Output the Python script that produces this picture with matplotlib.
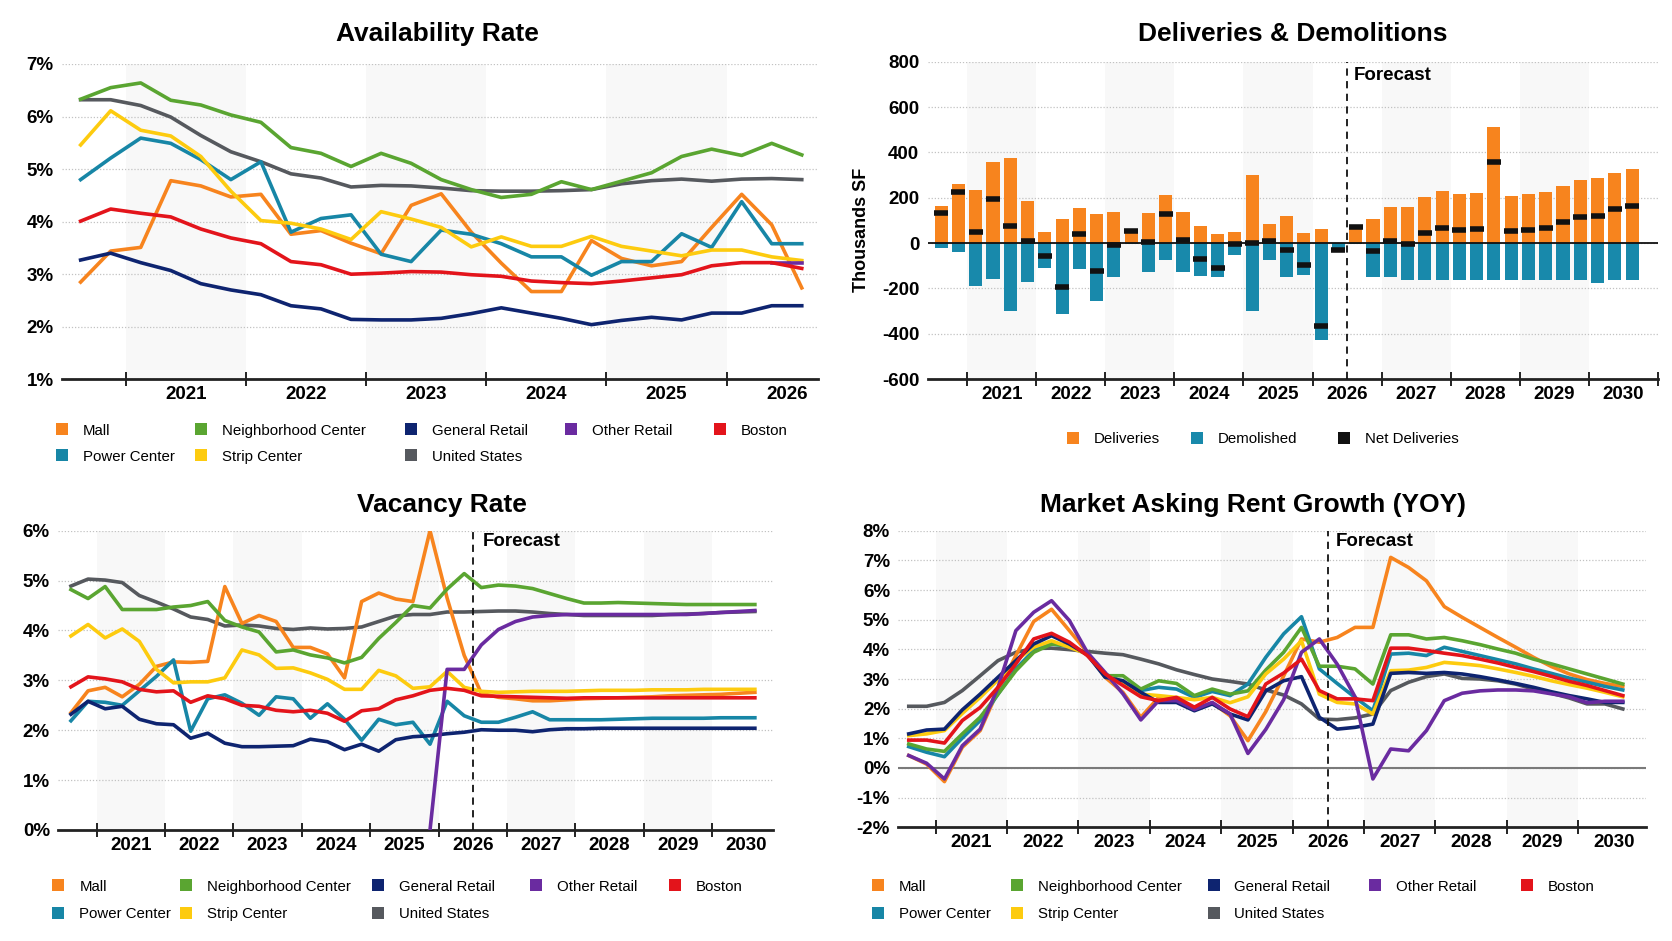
import numpy as np
import pandas as pd
import matplotlib
matplotlib.use('Agg')
import matplotlib.pyplot as plt
from matplotlib.lines import Line2D
from matplotlib.ticker import FixedLocator, FuncFormatter, NullFormatter

plt.rcParams['font.family'] = ['Liberation Sans', 'DejaVu Sans']

nan = np.nan

# quarters ------------------------------------------------------------
q_hist = pd.period_range('2020Q3', '2026Q3', freq='Q')   # availability
q_all = pd.period_range('2020Q3', '2030Q3', freq='Q')    # other panels

# Availability Rate (%) -----------------------------------------------
av_mall = [2.85, 3.44, 3.51, 4.78, 4.68, 4.47, 4.52, 3.76, 3.83, 3.59, 3.39, 4.31, 4.53,
           3.80, 3.21, 2.67, 2.67, 3.64, 3.30, 3.16, 3.24, 3.89, 4.52, 3.94, 2.74]
av_power = [4.80, 5.21, 5.59, 5.49, 5.18, 4.80, 5.14, 3.80, 4.06, 4.13, 3.38, 3.24, 3.84,
            3.76, 3.58, 3.33, 3.33, 2.98, 3.24, 3.24, 3.77, 3.51, 4.38, 3.58, 3.58]
av_neigh = [6.33, 6.55, 6.64, 6.31, 6.22, 6.03, 5.89, 5.41, 5.30, 5.05, 5.30, 5.11, 4.80,
            4.61, 4.46, 4.52, 4.76, 4.61, 4.77, 4.93, 5.24, 5.38, 5.26, 5.49, 5.27]
av_strip = [5.46, 6.11, 5.74, 5.63, 5.24, 4.58, 4.02, 3.97, 3.86, 3.66, 4.19, 4.05, 3.89,
            3.52, 3.71, 3.53, 3.53, 3.72, 3.53, 3.44, 3.35, 3.46, 3.46, 3.33, 3.26]
av_general = [3.27, 3.40, 3.22, 3.07, 2.82, 2.70, 2.61, 2.40, 2.34, 2.14, 2.13, 2.13, 2.16,
              2.25, 2.36, 2.26, 2.16, 2.04, 2.12, 2.18, 2.13, 2.26, 2.26, 2.40, 2.40]
av_us = [6.32, 6.32, 6.21, 5.99, 5.64, 5.33, 5.14, 4.91, 4.83, 4.66, 4.69, 4.68, 4.64,
         4.59, 4.58, 4.58, 4.59, 4.61, 4.72, 4.78, 4.81, 4.77, 4.81, 4.82, 4.80]
av_other = [nan] * 23 + [3.22, 3.22]
av_boston = [4.01, 4.24, 4.16, 4.09, 3.86, 3.69, 3.58, 3.24, 3.18, 3.00, 3.02, 3.05, 3.04,
             2.99, 2.96, 2.87, 2.84, 2.82, 2.87, 2.93, 2.99, 3.16, 3.22, 3.22, 3.11]

# Deliveries & Demolitions (thousands SF) -----------------------------
deliveries = [163, 261, 233, 356, 375, 184, 49, 108, 156, 127, 139, 55, 133, 212, 138, 76,
              40, 49, 301, 86, 119, 46, 61, 0, 75, 108, 157, 157, 203, 230, 215, 219, 511,
              209, 216, 224, 252, 276, 289, 308, 326]
demolished = [-22, -39, -188, -158, -300, -174, -112, -314, -116, -257, -148, -3, -126, -75,
              -126, -145, -152, -54, -300, -75, -148, -143, -428, -32, -3, -148, -148, -162,
              -162, -162, -162, -162, -162, -162, -162, -162, -162, -165, -177, -162, -162]
net_deliveries = [133, 224, 49, 194, 77, 7, -58, -196, 39, -123, -7, 52, 4, 130, 12, -70,
                  -109, -5, 1, 11, -29, -95, -368, -32, 72, -37, 9, -5, 46, 67, 59, 61, 356,
                  52, 59, 67, 93, 116, 119, 150, 164]

# Vacancy Rate (%) ----------------------------------------------------
vac_mall = [2.35, 2.79, 2.86, 2.67, 2.92, 3.28, 3.37, 3.36, 3.38, 4.88, 4.14, 4.30, 4.18, 3.66,
            3.66, 3.53, 3.05, 4.58, 4.75, 4.63, 4.58, 6.00, 4.65, 3.50, 2.74, 2.66, 2.63, 2.59,
            2.59, 2.61, 2.63, 2.64, 2.65, 2.66, 2.67, 2.69, 2.70, 2.71, 2.72, 2.74, 2.76]
vac_power = [2.19, 2.58, 2.56, 2.50, 2.79, 3.08, 3.41, 1.98, 2.63, 2.71, 2.54, 2.30, 2.67, 2.63,
             2.24, 2.53, 2.22, 1.80, 2.22, 2.11, 2.16, 1.72, 2.58, 2.29, 2.16, 2.16, 2.26, 2.37,
             2.21, 2.21, 2.21, 2.21, 2.22, 2.23, 2.24, 2.24, 2.24, 2.24, 2.25, 2.25, 2.25]
vac_neigh = [4.82, 4.64, 4.88, 4.42, 4.42, 4.42, 4.47, 4.50, 4.58, 4.20, 4.07, 3.97, 3.57, 3.61,
             3.51, 3.45, 3.35, 3.46, 3.84, 4.16, 4.50, 4.45, 4.83, 5.14, 4.86, 4.91, 4.89, 4.84,
             4.74, 4.64, 4.55, 4.55, 4.56, 4.55, 4.54, 4.53, 4.52, 4.52, 4.52, 4.52, 4.52]
vac_strip = [3.89, 4.12, 3.85, 4.03, 3.78, 3.22, 2.95, 2.97, 2.97, 3.05, 3.61, 3.51, 3.24, 3.25,
             3.15, 3.02, 2.82, 2.82, 3.20, 3.09, 2.84, 2.87, 3.18, 2.86, 2.78, 2.76, 2.77, 2.78,
             2.78, 2.78, 2.79, 2.80, 2.80, 2.80, 2.81, 2.81, 2.81, 2.82, 2.82, 2.82, 2.82]
vac_general = [2.32, 2.58, 2.43, 2.48, 2.22, 2.13, 2.11, 1.84, 1.94, 1.74, 1.67, 1.67, 1.68, 1.69,
               1.82, 1.77, 1.61, 1.72, 1.58, 1.81, 1.87, 1.89, 1.93, 1.96, 2.01, 2.00, 2.00, 1.97,
               2.01, 2.03, 2.03, 2.04, 2.04, 2.04, 2.04, 2.04, 2.04, 2.04, 2.04, 2.04, 2.04]
vac_us = [4.89, 5.03, 5.01, 4.96, 4.70, 4.57, 4.43, 4.27, 4.22, 4.09, 4.11, 4.09, 4.04, 4.02,
          4.05, 4.03, 4.04, 4.07, 4.18, 4.29, 4.32, 4.32, 4.37, 4.37, 4.38, 4.39, 4.39, 4.37,
          4.34, 4.32, 4.30, 4.30, 4.30, 4.30, 4.30, 4.32, 4.33, 4.34, 4.36, 4.37, 4.38]
vac_other = [nan] * 21 + [0.0, 3.22, 3.22, 3.71, 4.02, 4.18, 4.27, 4.30, 4.32, 4.32, 4.32, 4.32,
                          4.32, 4.32, 4.32, 4.32, 4.34, 4.36, 4.38, 4.40]
vac_boston = [2.87, 3.07, 3.03, 2.97, 2.82, 2.77, 2.79, 2.56, 2.69, 2.63, 2.50, 2.48, 2.40, 2.37,
              2.40, 2.34, 2.18, 2.39, 2.43, 2.61, 2.69, 2.80, 2.84, 2.80, 2.69, 2.68, 2.67, 2.66,
              2.65, 2.64, 2.65, 2.65, 2.65, 2.65, 2.65, 2.65, 2.65, 2.65, 2.65, 2.65, 2.65]

# Market Asking Rent Growth YOY (%) -----------------------------------
rent_mall = [0.42, 0.13, -0.46, 0.70, 1.26, 2.61, 3.79, 4.94, 5.35, 4.63, 3.90, 3.06, 2.55, 1.71,
             2.38, 2.27, 1.99, 2.20, 1.76, 0.92, 1.90, 3.10, 4.35, 4.24, 4.40, 4.74, 4.74, 7.10,
             6.76, 6.31, 5.44, 5.08, 4.74, 4.40, 4.07, 3.73, 3.42, 3.17, 2.98, 2.85, 2.75]
rent_power = [0.72, 0.53, 0.38, 1.01, 1.60, 2.49, 3.34, 3.96, 4.18, 4.10, 3.84, 3.17, 2.89, 2.61,
              2.72, 2.66, 2.38, 2.58, 2.44, 2.83, 3.73, 4.52, 5.10, 3.34, 2.85, 2.38, 1.93, 3.84,
              3.87, 3.79, 4.07, 3.93, 3.79, 3.65, 3.51, 3.34, 3.19, 3.03, 2.89, 2.75, 2.63]
rent_neigh = [0.81, 0.64, 0.56, 1.15, 1.71, 2.49, 3.28, 3.90, 4.18, 4.12, 3.84, 3.11, 3.11, 2.66,
              2.94, 2.85, 2.44, 2.66, 2.49, 2.60, 3.30, 3.90, 4.74, 3.43, 3.43, 3.34, 2.83, 4.49,
              4.49, 4.35, 4.40, 4.29, 4.16, 4.01, 3.87, 3.67, 3.51, 3.34, 3.17, 3.00, 2.83]
rent_strip = [1.09, 1.15, 1.26, 1.84, 2.38, 2.97, 3.62, 4.07, 4.29, 4.07, 3.84, 3.11, 2.89, 2.49,
              2.44, 2.38, 2.30, 2.38, 2.20, 2.40, 3.17, 3.67, 4.29, 2.49, 2.21, 2.16, 1.82, 3.28,
              3.30, 3.39, 3.56, 3.51, 3.45, 3.34, 3.22, 3.09, 2.94, 2.81, 2.69, 2.55, 2.40]
rent_general = [1.15, 1.28, 1.31, 1.96, 2.49, 3.06, 3.62, 4.18, 4.46, 4.18, 3.82, 3.06, 2.94, 2.55,
                2.21, 2.21, 1.93, 2.16, 1.82, 1.62, 2.60, 2.94, 3.08, 1.71, 1.31, 1.37, 1.48, 3.19,
                3.22, 3.19, 3.22, 3.17, 3.08, 2.97, 2.85, 2.72, 2.57, 2.44, 2.33, 2.21, 2.21]
rent_us = [2.08, 2.08, 2.21, 2.61, 3.11, 3.62, 3.90, 4.03, 4.04, 3.99, 3.93, 3.87, 3.82, 3.67,
           3.51, 3.31, 3.15, 3.00, 2.92, 2.83, 2.63, 2.46, 2.16, 1.65, 1.63, 1.69, 1.82, 2.61,
           2.89, 3.08, 3.17, 3.02, 3.00, 2.94, 2.83, 2.66, 2.52, 2.36, 2.16, 2.16, 1.99]
rent_other = [0.42, 0.16, -0.37, 0.75, 1.31, 2.72, 4.63, 5.25, 5.64, 4.97, 3.90, 3.22, 2.50, 1.62,
              2.27, 2.27, 1.97, 2.21, 1.82, 0.49, 1.30, 2.30, 3.90, 4.35, 3.50, 2.40, -0.37, 0.64,
              0.58, 1.26, 2.27, 2.52, 2.60, 2.63, 2.63, 2.60, 2.50, 2.40, 2.20, 2.25, 2.25]
rent_boston = [0.94, 0.94, 0.84, 1.60, 2.04, 2.72, 3.51, 4.35, 4.54, 4.24, 3.79, 3.17, 2.78, 2.40,
               2.27, 2.38, 2.05, 2.38, 1.99, 1.73, 2.83, 3.20, 3.67, 2.61, 2.33, 2.33, 2.27, 4.04,
               4.04, 3.96, 3.87, 3.79, 3.67, 3.54, 3.39, 3.25, 3.09, 2.92, 2.78, 2.61, 2.44]

names = ['Mall', 'Power Center', 'Neighborhood Center', 'Strip Center',
         'General Retail', 'United States', 'Other Retail', 'Boston']
colors = ['#F7841E', '#1786A6', '#5AA531', '#FDCB0F', '#0E2470', '#56595E', '#6A2BA0', '#E3141B']
draw_order = [5, 0, 1, 2, 3, 4, 6, 7]

DEL_C, DEM_C = '#F7841E', '#1889AB'

# ---------------------------------------------------------------------
W, H = 1672, 941
fig = plt.figure(figsize=(W / 100, H / 100), dpi=100)


def px_axes(l, t, r, b):
    return fig.add_axes([l / W, 1 - b / H, (r - l) / W, (b - t) / H])


def qx(periods):
    return np.asarray(periods.year + (periods.quarter - 0.5) / 4.0, dtype=float)


def style(ax, xlim, ylim, yticks, fmt):
    ax.set_xlim(*xlim)
    ax.set_ylim(*ylim)
    first, last = int(np.ceil(xlim[0])), int(np.floor(xlim[1]))
    for y in range(first, last + 1):
        if y % 2 == 1:
            ax.axvspan(y, y + 1, color='#F8F8F8', lw=0, zorder=0)
    ax.set_yticks(yticks)
    ax.yaxis.set_major_formatter(FuncFormatter(fmt))
    ax.grid(axis='y', ls=(0, (1, 1.5)), color='#C2C2C2', lw=0.9)
    ax.set_axisbelow(True)
    for s in ['left', 'right', 'top']:
        ax.spines[s].set_visible(False)
    ax.spines['bottom'].set_linewidth(2.0)
    ax.spines['bottom'].set_color('#222222')
    years = list(range(first, last + 1))
    ax.xaxis.set_major_locator(FixedLocator(years))
    ax.xaxis.set_major_formatter(NullFormatter())
    labs = [y for y in years if y + 0.5 < xlim[1]]
    ax.xaxis.set_minor_locator(FixedLocator([y + 0.5 for y in labs]))
    ax.xaxis.set_minor_formatter(FuncFormatter(lambda v, p: str(int(v))))
    ax.tick_params(axis='x', which='major', direction='inout', length=9.5, width=1.4, color='#222222')
    ax.tick_params(axis='x', which='minor', length=0, pad=5, labelsize=13.5)
    ax.tick_params(axis='y', length=0, pad=6, labelsize=13.5)
    for lab in ax.get_xticklabels(minor=True) + ax.get_yticklabels():
        lab.set_fontweight('bold')


def legend_entry(label, color, x_px, y_px):
    h = Line2D([], [], ls='none', marker='s', ms=9, color=color, markeredgewidth=0)
    fig.legend(handles=[h], labels=[label], loc='center left',
               bbox_to_anchor=(x_px / W, 1 - y_px / H), frameon=False, borderpad=0,
               borderaxespad=0, handlelength=0.8, handletextpad=1.0, fontsize=10.8)


def series_legend(cols, row1, row2):
    slots = [(cols[0], row1), (cols[0], row2), (cols[1], row1), (cols[1], row2),
             (cols[2], row1), (cols[2], row2), (cols[3], row1), (cols[4], row1)]
    for name, c, (x, y) in zip(names, colors, slots):
        legend_entry(name, c, x, y)


pct = lambda v, p: f'{v:.0f}%'

# Availability Rate ---------------------------------------------------
ax1 = px_axes(62, 64, 818, 379.3)
style(ax1, (2020.47, 2026.76), (1, 7), range(1, 8), pct)
x = qx(q_hist)
av = [av_mall, av_power, av_neigh, av_strip, av_general, av_us, av_other, av_boston]
for i in draw_order:
    ax1.plot(x, av[i], color=colors[i], lw=2.6, zorder=3)
fig.text(437 / W, 1 - 34 / H, 'Availability Rate', ha='center', va='center',
         fontsize=19, weight='bold')
series_legend([56, 195, 405, 565, 714], 430.7, 456.7)

# Deliveries & Demolitions -------------------------------------------
ax2 = px_axes(927.7, 61.7, 1658, 379)
style(ax2, (2020.43, 2031.0), (-600, 800), range(-600, 801, 200), lambda v, p: f'{v:.0f}')
x = qx(q_all)
ax2.bar(x, deliveries, width=0.19, color=DEL_C, zorder=2)
ax2.bar(x, demolished, width=0.19, color=DEM_C, zorder=2)
ax2.axhline(0, color='#111111', lw=1.3, zorder=3)
ax2.plot(x, net_deliveries, ls='none', marker='_', ms=9.5, mew=4, color='#111111', zorder=4)
ax2.axvline(2026.5, color='#111111', ls=(0, (4, 3)), lw=1.3, zorder=4)
ax2.text(2026.6, 741, 'Forecast', fontsize=13.5, weight='bold', va='center')
fig.text(1293 / W, 1 - 34 / H, 'Deliveries & Demolitions', ha='center', va='center',
         fontsize=19, weight='bold')
fig.text(861 / W, 1 - 230 / H, 'Thousands SF', rotation=90, ha='center', va='center',
         fontsize=13, weight='bold')
legend_entry('Deliveries', DEL_C, 1067, 439.3)
legend_entry('Demolished', DEM_C, 1190.7, 439.3)
legend_entry('Net Deliveries', '#111111', 1338, 439.3)

# Vacancy Rate --------------------------------------------------------
ax3 = px_axes(58.3, 530.7, 773, 830)
style(ax3, (2020.44, 2030.89), (0, 6), range(0, 7), pct)
vac = [vac_mall, vac_power, vac_neigh, vac_strip, vac_general, vac_us, vac_other, vac_boston]
for i in draw_order:
    ax3.plot(x, vac[i], color=colors[i], lw=2.6, zorder=3)
ax3.axvline(2026.5, color='#111111', ls=(0, (4, 3)), lw=1.3, zorder=4)
ax3.text(2026.64, 5.78, 'Forecast', fontsize=13.5, weight='bold', va='center')
fig.text(442 / W, 1 - 505 / H, 'Vacancy Rate', ha='center', va='center',
         fontsize=19, weight='bold')
series_legend([52.3, 180, 372.3, 530, 669], 886.7, 914.3)

# Market Asking Rent Growth ------------------------------------------
ax4 = px_axes(898.4, 530.7, 1646, 827.3)
style(ax4, (2020.48, 2030.95), (-2, 8), range(-2, 9), pct)
ax4.axhline(0, color='#7A7A7A', lw=1.5, zorder=1.5)
rent = [rent_mall, rent_power, rent_neigh, rent_strip, rent_general, rent_us, rent_other, rent_boston]
for i in draw_order:
    ax4.plot(x, rent[i], color=colors[i], lw=2.6, zorder=3)
ax4.axvline(2026.5, color='#111111', ls=(0, (4, 3)), lw=1.3, zorder=4)
ax4.text(2026.6, 7.63, 'Forecast', fontsize=13.5, weight='bold', va='center')
fig.text(1253 / W, 1 - 505 / H, 'Market Asking Rent Growth (YOY)', ha='center', va='center',
         fontsize=19, weight='bold')
series_legend([872, 1011, 1207.5, 1369, 1521], 886.7, 914)

fig.savefig('out.png', dpi=100)
